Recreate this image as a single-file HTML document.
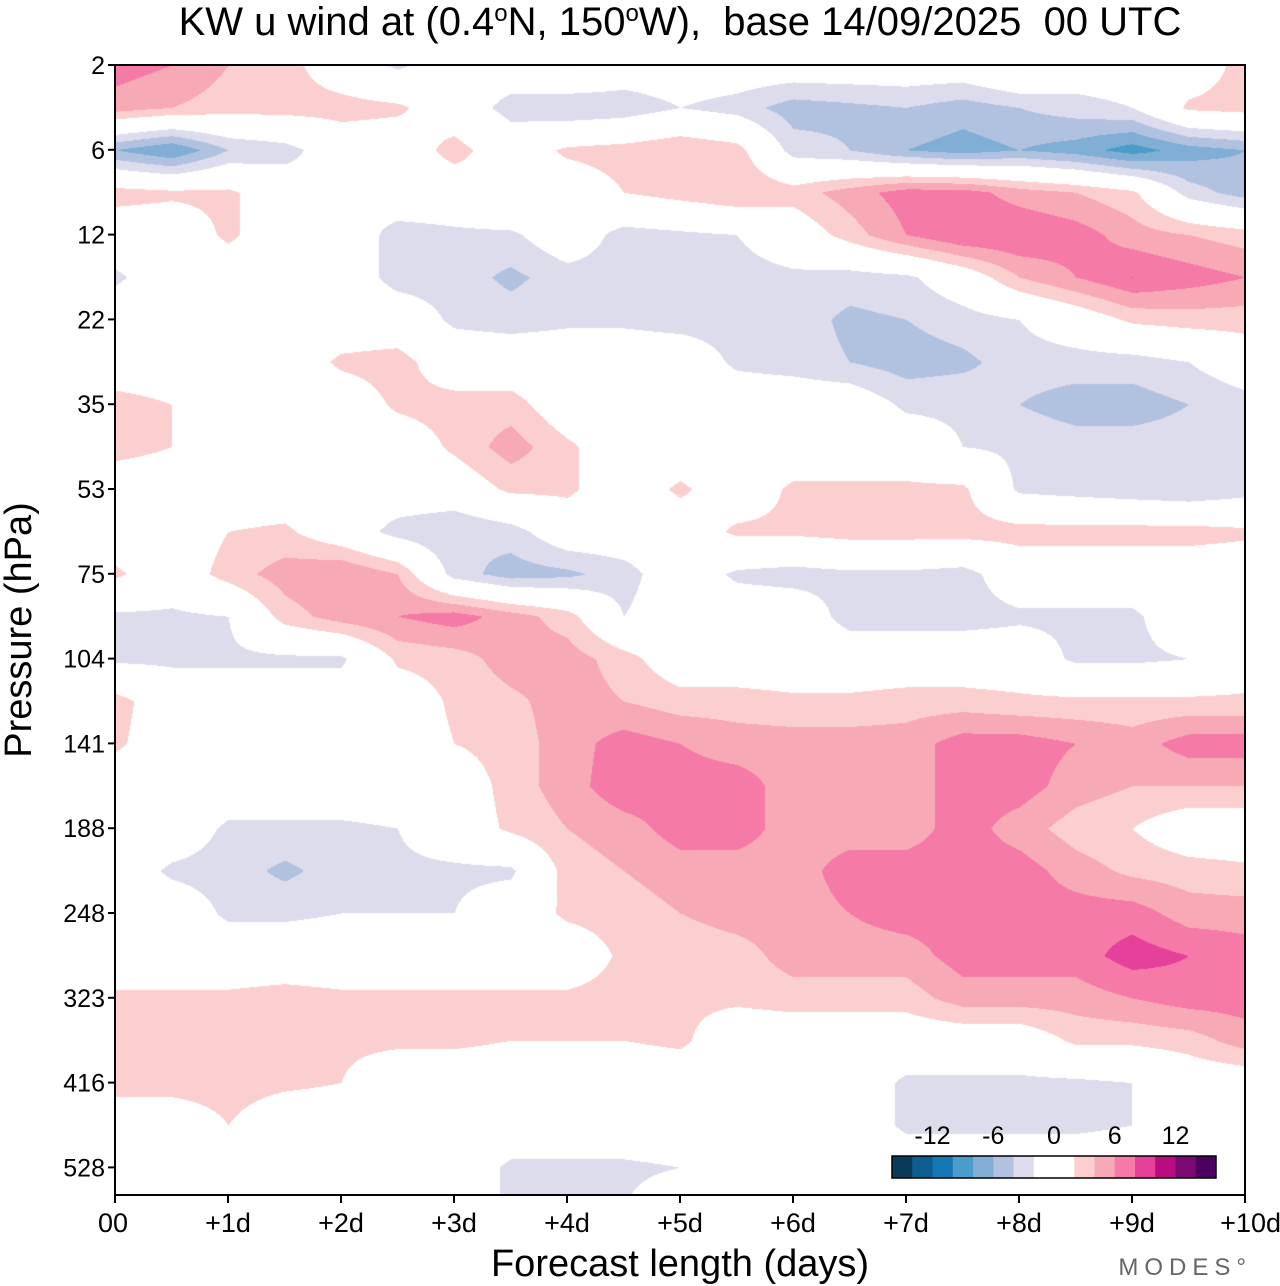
<!DOCTYPE html>
<html><head><meta charset="utf-8">
<style>
body{margin:0;background:#fff;width:1280px;height:1286px;position:relative;overflow:hidden;font-family:"Liberation Sans",Arial,sans-serif;}
#plot{position:absolute;left:115px;top:65px;}
svg{position:absolute;left:0;top:0;}
</style></head><body>
<canvas id="plot" width="1130" height="1130"></canvas>
<svg id="ov" width="1280" height="1286"></svg>
<script>
const dayLabels=["00","+1d","+2d","+3d","+4d","+5d","+6d","+7d","+8d","+9d","+10d"];
const pressureLabels=["2","6","12","22","35","53","75","104","141","188","248","323","416","528"];
const legendLabels=[-12,-6,0,6,12];
const levelColors=["#0a3a5a","#0d5d90","#1478b5","#4a9ccb","#80aed4","#b1c2e0","#dcdcec","#ffffff","#ffffff","#fbcfcf","#f7a9b6","#f57aa7","#e5409a","#b80c80","#7a0a72","#4c0060"];
// u wind grid: rows = half pressure-label steps from 2 hPa, cols = 0..10 days every 0.5 d
const uWind=[
[7,6,4,3,0,-2.5,0,0,2,0,0,0,0,0,0,0,2,0,0,0,3],
[5,4,3,3,3,2.5,0,-3,-4,-3.5,-2,-3,-5,-4.5,-4,-5,-4,-3,-2,2.5,3],
[-6,-8,-4,-3,0,0,3,0,2.5,3,4,3,-3,-4,-6,-7,-6,-7,-9,-7,-6],
[3,2.5,2.5,0,-2,0,0,2,0,2,3,4,3,5,7,7,5,4,2.5,-3,-5],
[0,0,2.5,0,0,-3,-2.5,-2.5,0,-3,-2.5,-2,0,3,6,8,8,7,5,4,3],
[-2.5,0,0,0,0,-3,-3,-4.5,-3,-3,-4,-3,-2.5,-3,-2.5,0,4,6,8,7,6],
[0,0,0,0,0,0,-2.5,-3,-2.5,-2.5,-3,-3,-3,-4.5,-4,-3,-2,0,2.5,3,3],
[0,0,0,0,2.5,3,0,0,0,0,0,-2.5,-3,-4,-5,-4.5,-3,-3,-3,-2,0],
[3,2,0,0,0,2.5,3,3,0,0,0,0,0,0,-2.5,-2.5,-4,-5,-5,-4,-3],
[3,2,0,0,0,0,2.5,5,2.5,0,0,0,0,0,0,-2,-2.5,-3,-3,-3,-3],
[0,0,0,0,0,0,0,2.5,2.5,0,2.5,0,2.5,2.5,2.5,2.5,-2.5,-3,-3.5,-4,-3],
[0,0,2,2.5,0,-3,-4,-3,0,0,0,2.5,2.5,3,3,3,3,3,3,3,2.5],
[2.5,0,3,5,6,4,-3,-5,-4.5,-3,0,-2.5,-3,-2.5,-2.5,-3,0,0,0,0,0],
[-2.5,-2.5,-2,3,5,6,7,5,3,-2,0,0,0,-3,-3,-3,-2.5,-2.5,-2.5,0,0],
[-2.5,-2.5,-2.5,-2.5,-2.5,2.5,3,5,5,3,0,0,0,0,0,0,0,-2.5,-2.5,-2,0],
[3,0,0,0,0,0,2.5,3.5,5,4,3,3,2.5,2.5,3,3,2.5,2.5,2.5,2.5,2.5],
[2.5,0,0,0,0,0,2,3,5,7,6,5,5,5,5,7,7,6,5,7,7],
[0,0,0,0,0,0,0,3,5,7.5,7,7,5,5,5,7,7,5,4,4,4],
[0,0,-2.5,-2.5,-2.5,-2,0,2.5,4,5,7,7,5,5,5,7,5,3,2,0,0],
[0,-2.5,-3,-4.5,-3,-2.5,-2.5,-2.5,3,4,5,5,5,7,7,7,7,5,3.5,3,2.5],
[0,0,-2.5,-2.5,-2,-2,-2,0,2.5,3,4,5,5,6,7,7,7,7,7,5,5],
[0,0,0,0,0,0,0,0,0,2.5,2.5,3,5,5,5,7,7,7,9,8,7],
[2.5,2.5,2.5,3,2.5,2.5,2.5,2.5,2.5,3,2.5,2.5,3,3,3,5,5,5,6,7,7],
[3,3,3,3,2.5,2.5,2.5,2,2,2,2.5,0,0,0,0,0,0,2.5,2.5,3,5],
[3,3,3,2.5,2,0,0,0,0,0,0,0,0,0,-2.5,-2.5,-2.5,-2.5,-2,0,0],
[0,0,2,0,0,0,0,0,0,0,0,0,0,0,-2.5,-2.5,-2.5,-2.5,-2,0,0],
[0,0,0,0,0,0,0,-2.5,-2.5,-2.5,-2,0,0,0,0,0,0,0,0,0,0],
[0,0,0,0,0,0,0,-2.5,-2.5,-2,0,0,0,0,0,0,0,0,0,0,0]
];
const X0=115,Y0=65,W=1130,H=1130,DAYPX=113,LEVPX=84.8;
function xOfDay(d){return X0+d*DAYPX;}
function yOfLev(i){return Y0+i*LEVPX;}
function hex(c){return [parseInt(c.substr(1,2),16),parseInt(c.substr(3,2),16),parseInt(c.substr(5,2),16)];}
const rgb=levelColors.map(hex);
(function(){
 const cv=document.getElementById('plot'),ctx=cv.getContext('2d');
 const img=ctx.createImageData(W,H),nr=uWind.length,nc=uWind[0].length;
 for(let py=0;py<H;py++){
  let r=py/LEVPX*2; if(r>nr-1)r=nr-1; const r0=Math.min(Math.floor(r),nr-2),fr=r-r0;
  for(let px=0;px<W;px++){
   let c=px/DAYPX*2; if(c>nc-1)c=nc-1; const c0=Math.min(Math.floor(c),nc-2),fc=c-c0;
   const v=(uWind[r0][c0]*(1-fc)+uWind[r0][c0+1]*fc)*(1-fr)+(uWind[r0+1][c0]*(1-fc)+uWind[r0+1][c0+1]*fc)*fr;
   let k=Math.floor(v/2)+8; k=Math.max(0,Math.min(15,k));
   const o=(py*W+px)*4,cc=rgb[k];
   img.data[o]=cc[0];img.data[o+1]=cc[1];img.data[o+2]=cc[2];img.data[o+3]=255;
  }
 }
 ctx.putImageData(img,0,0);
})();
const NS="http://www.w3.org/2000/svg",sv=document.getElementById('ov');
function mk(t,a,txt){const e=document.createElementNS(NS,t);for(const k in a)e.setAttribute(k,a[k]);if(txt!==undefined)e.textContent=txt;sv.appendChild(e);return e;}
let e;
e=mk('rect',{x:X0,y:Y0,width:W,height:H,fill:'none',stroke:'#000','stroke-width':2});


pressureLabels.forEach((p,i)=>{
 const y=yOfLev(i);
 e=mk('line',{x1:X0-7,x2:X0,y1:y,y2:y,stroke:'#000','stroke-width':2});
 
 
 e=mk('text',{x:X0-10,y:y+9,'text-anchor':'end','font-size':25,fill:'#000'},p);
 
 
});
dayLabels.forEach((d,i)=>{
 const x=xOfDay(i);
 e=mk('line',{x1:x,x2:x,y1:Y0+H,y2:Y0+H+8,stroke:'#000','stroke-width':2});
 
 
 e=mk('text',{x:i==0?X0-17:(i==10?x+36:x),y:1232,'text-anchor':i==0?'start':(i==10?'end':'middle'),'font-size':27,fill:'#000'},d);
 
 
});
e=mk('text',{x:680,y:35,'text-anchor':'middle','font-size':40,fill:'#000'},'');
e.innerHTML='KW u wind at (0.4<tspan dy="-14" font-size="24">o</tspan><tspan dy="14">N, 150</tspan><tspan dy="-14" font-size="24">o</tspan><tspan dy="14">W), \u00a0base 14/09/2025 \u00a000 UTC</tspan>';


e=mk('text',{x:680,y:1276,'text-anchor':'middle','font-size':38,fill:'#000'},'Forecast length (days)');


e=mk('text',{x:0,y:0,'text-anchor':'middle','font-size':38,fill:'#000',transform:'translate(31,630) rotate(-90)'},'Pressure (hPa)');


e=mk('text',{x:1252,y:1275,'text-anchor':'end','font-size':24,fill:'#666','letter-spacing':'6'},'MODES°');


const LX=892,LY=1156,BW=20.25,BH=22;
levelColors.forEach((c,i)=>{
 e=mk('rect',{x:LX+i*BW,y:LY,width:BW+0.5,height:BH,fill:c});
 
 
});
e=mk('rect',{x:LX,y:LY,width:BW*16,height:BH,fill:'none',stroke:'#000','stroke-width':1.5});


legendLabels.forEach(v=>{
 e=mk('text',{x:LX+(v/2+8)*BW,y:1144,'text-anchor':'middle','font-size':25,fill:'#000'},String(v));
 
 
});
</script>
</body></html>
